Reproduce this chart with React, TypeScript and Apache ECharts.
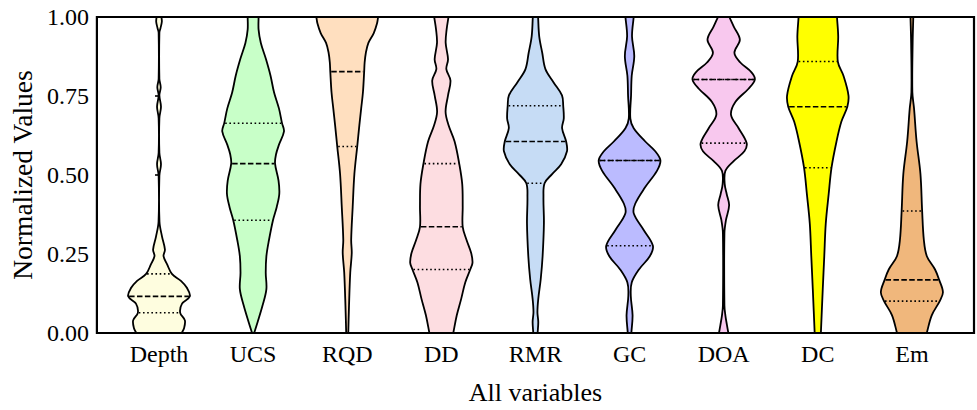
import React, { useEffect, useRef } from "react";
import * as echarts from "echarts";

const categories = ["Depth", "UCS", "RQD", "DD", "RMR", "GC", "DOA", "DC", "Em"];

const fillColors = ["#FEFDDF", "#C8FFC8", "#FFDFBF", "#FDDDE1", "#C6DCF5", "#BBBBFF", "#F8C8EE", "#FFFF00", "#F0B77C"];

// Violin outlines: [normalized value, half width in category units], from top (1) to bottom (0)
const depthProfile = [
  [1.0, 0.026], [0.985, 0.03], [0.965, 0.016], [0.95, 0.004], [0.804, 0.004], [0.778, 0.018],
  [0.752, 0.004], [0.716, 0.021], [0.68, 0.004], [0.57, 0.004], [0.534, 0.021], [0.498, 0.004],
  [0.352, 0.005], [0.305, 0.032], [0.264, 0.063], [0.243, 0.048], [0.218, 0.085], [0.187, 0.137],
  [0.165, 0.233], [0.143, 0.296], [0.116, 0.328], [0.093, 0.245], [0.064, 0.225], [0.04, 0.275],
  [0.015, 0.266], [0.0, 0.24],
];
const ucsProfile = [
  [1.0, 0.058], [0.96, 0.058], [0.918, 0.082], [0.866, 0.137], [0.814, 0.185], [0.762, 0.222],
  [0.71, 0.275], [0.664, 0.307], [0.638, 0.328], [0.596, 0.275], [0.565, 0.243], [0.536, 0.233],
  [0.482, 0.27], [0.44, 0.278], [0.399, 0.251], [0.357, 0.211], [0.295, 0.169], [0.243, 0.141],
  [0.191, 0.134], [0.139, 0.141], [0.087, 0.1], [0.035, 0.048], [0.0, 0.011],
];
const rqdProfile = [
  [1.0, 0.328], [0.98, 0.317], [0.949, 0.282], [0.918, 0.225], [0.887, 0.198], [0.856, 0.185],
  [0.827, 0.18], [0.762, 0.167], [0.71, 0.148], [0.658, 0.129], [0.59, 0.106], [0.503, 0.076],
  [0.399, 0.058], [0.295, 0.042], [0.253, 0.048], [0.191, 0.032], [0.087, 0.019], [0.0, 0.011],
];
const ddProfile = [
  [1.0, 0.076], [0.96, 0.056], [0.918, 0.046], [0.866, 0.071], [0.835, 0.053], [0.799, 0.097],
  [0.752, 0.071], [0.7, 0.045], [0.658, 0.076], [0.606, 0.141], [0.536, 0.19], [0.471, 0.222],
  [0.399, 0.227], [0.336, 0.227], [0.295, 0.267], [0.253, 0.317], [0.222, 0.331], [0.201, 0.307],
  [0.16, 0.254], [0.108, 0.211], [0.056, 0.164], [0.0, 0.127],
];
const rmrProfile = [
  [1.0, 0.028], [0.939, 0.04], [0.887, 0.072], [0.835, 0.106], [0.793, 0.193], [0.752, 0.282],
  [0.719, 0.295], [0.679, 0.301], [0.648, 0.283], [0.606, 0.326], [0.575, 0.335], [0.534, 0.273],
  [0.503, 0.177], [0.474, 0.097], [0.43, 0.085], [0.347, 0.09], [0.243, 0.076], [0.17, 0.056],
  [0.108, 0.03], [0.066, 0.021], [0.035, 0.03], [0.0, 0.023],
];
const gcProfile = [
  [1.0, 0.044], [0.939, 0.026], [0.876, 0.05], [0.814, 0.023], [0.752, 0.016], [0.679, 0.008],
  [0.648, 0.044], [0.606, 0.167], [0.575, 0.273], [0.546, 0.328], [0.513, 0.291], [0.461, 0.165],
  [0.409, 0.06], [0.378, 0.045], [0.326, 0.15], [0.276, 0.248], [0.243, 0.215], [0.201, 0.1],
  [0.16, 0.023], [0.118, 0.013], [0.056, 0.032], [0.0, 0.019],
];
const doaProfile = [
  [1.0, 0.06], [0.97, 0.106], [0.928, 0.172], [0.887, 0.114], [0.856, 0.177], [0.825, 0.296],
  [0.802, 0.331], [0.773, 0.264], [0.731, 0.124], [0.69, 0.078], [0.648, 0.159], [0.601, 0.244],
  [0.575, 0.22], [0.544, 0.106], [0.513, 0.018], [0.471, 0.011], [0.44, 0.032], [0.404, 0.058],
  [0.357, 0.024], [0.316, 0.008], [0.087, 0.008], [0.056, 0.018], [0.025, 0.035], [0.0, 0.05],
];
const dcProfile = [
  [1.0, 0.204], [0.939, 0.217], [0.859, 0.213], [0.814, 0.273], [0.752, 0.326], [0.716, 0.314],
  [0.669, 0.251], [0.606, 0.199], [0.523, 0.146], [0.44, 0.116], [0.347, 0.085], [0.243, 0.069],
  [0.139, 0.053], [0.0, 0.033],
];
const emProfile = [
  [1.0, 0.015], [0.918, 0.008], [0.762, 0.005], [0.71, 0.023], [0.606, 0.05], [0.503, 0.091],
  [0.386, 0.109], [0.295, 0.127], [0.243, 0.159], [0.201, 0.246], [0.168, 0.29], [0.129, 0.33],
  [0.101, 0.296], [0.056, 0.211], [0.0, 0.158],
];

const profiles = [depthProfile, ucsProfile, rqdProfile, ddProfile, rmrProfile, gcProfile, doaProfile, dcProfile, emProfile];

// [first quartile, median, third quartile]
const q1Values = [0.064, 0.357, 0.59, 0.201, 0.474, 0.276, 0.601, 0.523, 0.101];
const medianValues = [0.116, 0.536, 0.827, 0.336, 0.606, 0.546, 0.802, 0.716, 0.168];
const q3Values = [0.187, 0.664, 1.0, 0.536, 0.719, 0.546, 0.802, 0.859, 0.386];

const yTicks = [0, 0.25, 0.5, 0.75, 1];

const FONT = "Liberation Serif";

function widthAt(profile: number[][], v: number): number {
  for (let k = 0; k < profile.length - 1; k++) {
    const [va, wa] = profile[k];
    const [vb, wb] = profile[k + 1];
    if (v <= va && v >= vb) {
      const t = va === vb ? 0 : (va - v) / (va - vb);
      return wa + (wb - wa) * t;
    }
  }
  return profile[profile.length - 1][1];
}

export default function App() {
  const ref = useRef<HTMLDivElement>(null);

  useEffect(() => {
    if (!ref.current) return;
    const chart = echarts.init(ref.current, undefined, { renderer: "svg" });

    const renderItem = (params: any, api: any) => {
      const i = api.value(0) as number;
      const prof = profiles[i];
      const left = prof.map(([v, w]) => api.coord([i - w, v]));
      const right = prof
        .slice()
        .reverse()
        .map(([v, w]) => api.coord([i + w, v]));
      // duplicate the corner points so the smoothing keeps them sharp
      const pts = [left[0], ...left, left[left.length - 1], right[0], ...right, right[right.length - 1]];
      const children: any[] = [
        {
          type: "polygon",
          shape: { points: pts, smooth: 0.35 },
          style: { fill: fillColors[i], stroke: "#000", lineWidth: 1.8 },
        },
      ];
      const mkLine = (v: number, dash: number[]) => {
        const w = widthAt(prof, v) - 0.01;
        const a = api.coord([i - w, v]);
        const b = api.coord([i + w, v]);
        return {
          type: "line",
          shape: { x1: a[0], y1: a[1], x2: b[0], y2: b[1] },
          style: { stroke: "#000", lineWidth: 1.6, lineDash: dash },
        };
      };
      children.push(mkLine(medianValues[i], [5.5, 2.4]));
      children.push(mkLine(q1Values[i], [1.6, 2.6]));
      children.push(mkLine(q3Values[i], [1.6, 2.6]));
      return { type: "group", children };
    };

    chart.setOption({
      animation: false,
      backgroundColor: "#fff",
      grid: {
        left: 92,
        right: 3,
        top: 17,
        bottom: 72,
        show: true,
        borderColor: "#000",
        borderWidth: 2.2,
        backgroundColor: "transparent",
        z: 10,
      },
      xAxis: {
        type: "value",
        min: -0.66,
        max: 8.66,
        axisLine: { show: false },
        axisTick: { show: false },
        splitLine: { show: false },
        axisLabel: {
          customValues: categories.map((_, i) => i),
          formatter: (v: number) => categories[Math.round(v)] ?? "",
          color: "#000",
          fontFamily: FONT,
          fontSize: 24,
          margin: 9,
        },
        name: "All variables",
        nameLocation: "middle",
        nameGap: 46,
        nameTextStyle: { color: "#000", fontFamily: FONT, fontSize: 26 },
      },
      yAxis: {
        type: "value",
        min: 0,
        max: 1,
        interval: 0.25,
        axisLine: { show: false },
        axisTick: { show: true, inside: false, length: 4, lineStyle: { color: "#000", width: 1.6 } },
        splitLine: { show: false },
        axisLabel: {
          customValues: yTicks,
          formatter: (v: number) => v.toFixed(2),
          color: "#000",
          fontFamily: FONT,
          fontSize: 24,
          margin: 8,
        },
        name: "Normalized Values",
        nameLocation: "middle",
        nameGap: 53,
        nameTextStyle: { color: "#000", fontFamily: FONT, fontSize: 27.5 },
      },
      series: [
        {
          type: "custom",
          clip: true,
          renderItem,
          encode: { x: 0, y: 1 },
          data: categories.map((_, i) => [i, 0.5]),
          z: 2,
        },
      ],
    });

    return () => chart.dispose();
  }, []);

  return (
    <div
      ref={ref}
      style={{ position: "absolute", left: 0, top: 0, width: 977, height: 410 }}
    />
  );
}
